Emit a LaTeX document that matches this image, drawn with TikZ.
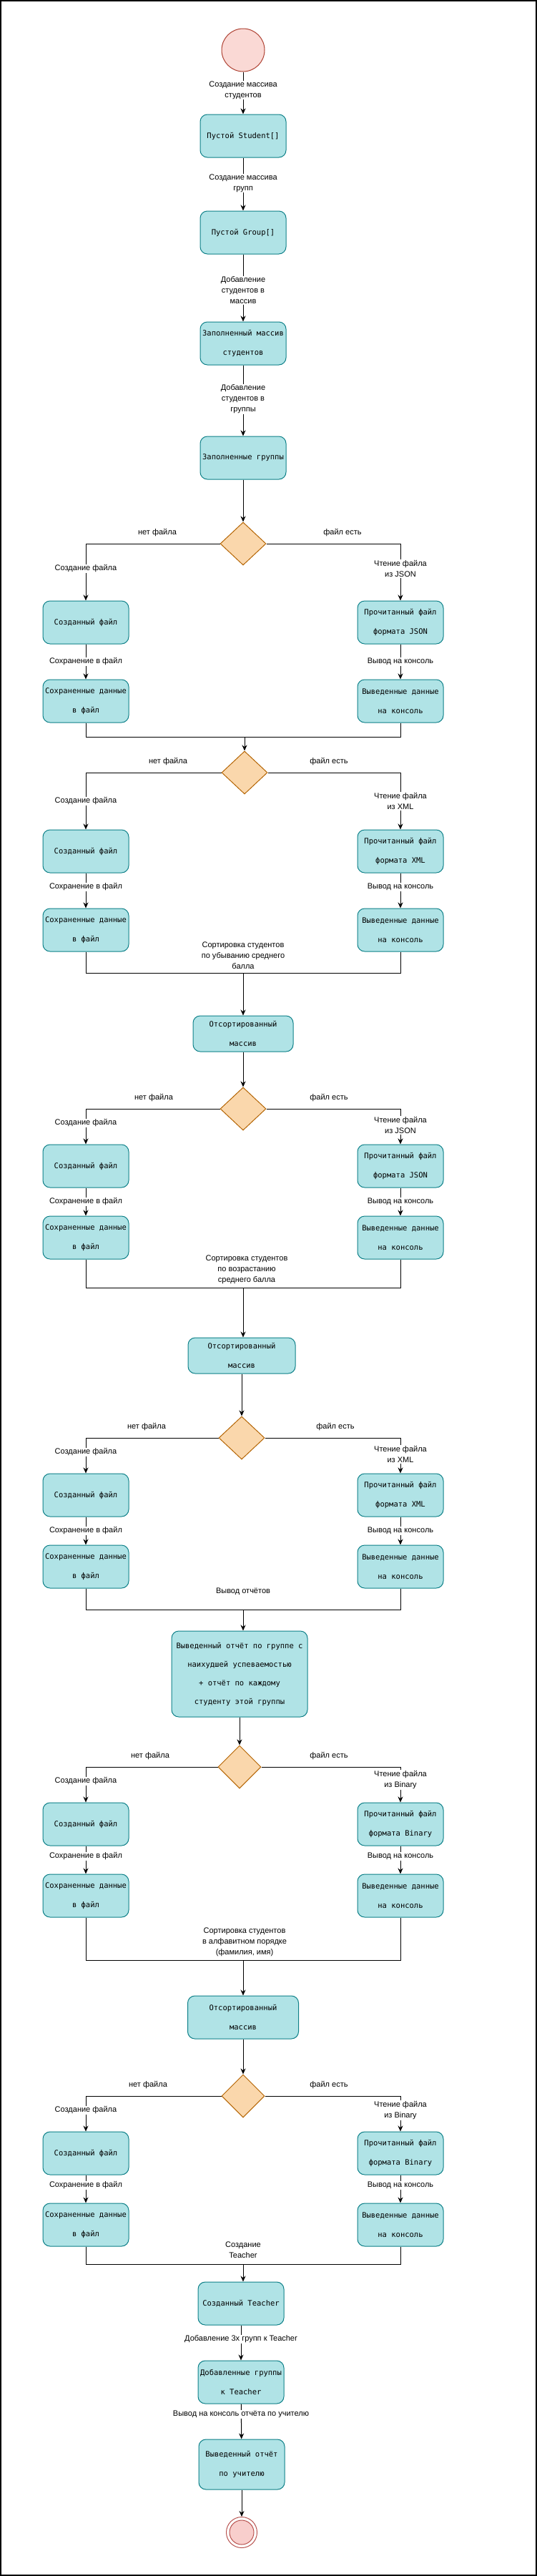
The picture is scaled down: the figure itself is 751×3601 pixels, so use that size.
\documentclass[tikz,border=0pt]{standalone}
\usepackage{fontspec}
\setmainfont{Liberation Sans}
\newfontfamily\boxmono{DejaVu Sans Mono}
\usetikzlibrary{shapes.geometric,arrows.meta}
\definecolor{boxfill}{HTML}{B0E3E6}
\definecolor{boxline}{HTML}{0E8088}
\definecolor{decfill}{HTML}{FAD7AC}
\definecolor{decline}{HTML}{B46504}
\definecolor{startfill}{HTML}{FAD9D5}
\definecolor{startline}{HTML}{AE4132}
\definecolor{endfill}{HTML}{F8CECC}
\definecolor{endline}{HTML}{B85450}
\tikzset{
 act/.style={draw=boxline, fill=boxfill, line width=1pt, rounded corners=10pt, minimum width=120pt, minimum height=60pt, inner sep=0pt, align=center, font=\boxmono\fontsize{10.5}{27}\selectfont},
 dec/.style={draw=decline, fill=decfill, line width=1pt, diamond, minimum width=64pt, minimum height=60pt, inner sep=0pt},
 lbl/.style={fill=white, inner sep=1pt, align=center, font=\fontsize{11}{15}\selectfont},
 flow/.style={line width=1pt, -{Stealth[length=8pt,width=7pt]}},
 wire/.style={line width=1pt},
}
\begin{document}
\begin{tikzpicture}[x=1pt,y=-1pt]
\useasboundingbox (0,0) rectangle (751,3601);
\draw[line width=1.5pt] (0.75,0.75) rectangle (750,3600);

% ---------- top part ----------
\node[circle, draw=startline, fill=startfill, line width=1pt, minimum size=60pt, inner sep=0pt] (start) at (340,70) {};
\node[act] (b1) at (340,190) {Пустой Student[]};
\node[act] (b2) at (340,325) {Пустой Group[]};
\node[act] (b3) at (340,480) {Заполненный массив\\студентов};
\node[act] (b4) at (340,640) {Заполненные группы};
\node[dec] (d1) at (340,760) {};

\draw[flow] (start) -- (b1);
\draw[flow] (b1) -- (b2);
\draw[flow] (b2) -- (b3);
\draw[flow] (b3) -- (b4);
\draw[flow] (b4) -- (d1);
\node[lbl] (e1) at (340,126) {Создание массива\\студентов};
\node[lbl] (e2) at (340,256) {Создание массива\\групп};
\node[lbl] (e3) at (340,406) {Добавление\\студентов в\\массив};
\node[lbl] (e4) at (340,558) {Добавление\\студентов в\\группы};

% ---------- block 1 (JSON) ----------
\node[act] (a1) at (120,870) {Созданный файл};
\node[act] (a2) at (120,980) {Сохраненные данные\\в файл};
\node[act] (a3) at (560,870) {Прочитанный файл\\формата JSON};
\node[act] (a4) at (560,980) {Выведенные данные\\на консоль};
\coordinate (m1) at (342,1030);
\node[dec] (d2) at (342,1080) {};
\draw[flow] (d1.west) -| (a1.north);
\draw[flow] (d1.east) -| (a3.north);
\draw[flow] (a1) -- (a2);
\draw[flow] (a3) -- (a4);
\draw[wire] (a2.south) |- (m1) -| (a4.south);
\draw[flow] (m1) -- (d2.north);
\node[lbl] (n1) at (220,745) {нет файла};
\node[lbl] (y1) at (479,745) {файл есть};
\node[lbl] (c1) at (120,795) {Создание файла};
\node[lbl] (r1) at (560,795) {Чтение файла\\из JSON};
\node[lbl] (s1l) at (120,925) {Сохранение в файл};
\node[lbl] (o1) at (560,925) {Вывод на консоль};

% ---------- block 2 (XML) ----------
\node[act] (f1) at (120,1190) {Созданный файл};
\node[act] (f2) at (120,1300) {Сохраненные данные\\в файл};
\node[act] (f3) at (560,1190) {Прочитанный файл\\формата XML};
\node[act] (f4) at (560,1300) {Выведенные данные\\на консоль};
\coordinate (m2) at (340,1360);
\node[act, minimum width=140pt, minimum height=50pt] (srt1) at (340,1445) {Отсортированный\\массив};
\draw[flow] (d2.west) -| (f1.north);
\draw[flow] (d2.east) -| (f3.north);
\draw[flow] (f1) -- (f2);
\draw[flow] (f3) -- (f4);
\draw[wire] (f2.south) |- (m2) -| (f4.south);
\draw[flow] (m2) -- (srt1.north);
\node[lbl] (n2) at (235,1065) {нет файла};
\node[lbl] (y2) at (460,1065) {файл есть};
\node[lbl] (c2) at (120,1120) {Создание файла};
\node[lbl] (r2) at (560,1120) {Чтение файла\\из XML};
\node[lbl] (s2l) at (120,1240) {Сохранение в файл};
\node[lbl] (o2) at (560,1240) {Вывод на консоль};
\node[lbl] (k1) at (340,1336) {Сортировка студентов\\по убыванию среднего\\балла};

% ---------- block 3 (JSON) ----------
\node[dec] (d3) at (340,1550) {};
\node[act] (g1) at (120,1630) {Созданный файл};
\node[act] (g2) at (120,1730) {Сохраненные данные\\в файл};
\node[act] (g3) at (560,1630) {Прочитанный файл\\формата JSON};
\node[act] (g4) at (560,1730) {Выведенные данные\\на консоль};
\coordinate (m3) at (340,1800);
\node[act, minimum width=150pt, minimum height=50pt] (srt2) at (338,1895) {Отсортированный\\массив};
\draw[flow] (srt1) -- (d3);
\draw[flow] (d3.west) -| (g1.north);
\draw[flow] (d3.east) -| (g3.north);
\draw[flow] (g1) -- (g2);
\draw[flow] (g3) -- (g4);
\draw[wire] (g2.south) |- (m3) -| (g4.south);
\draw[flow] (m3) -- (m3 |- srt2.north);
\node[lbl] (n3) at (215,1535) {нет файла};
\node[lbl] (y3) at (460,1535) {файл есть};
\node[lbl] (c3) at (120,1570) {Создание файла};
\node[lbl] (r3) at (560,1573) {Чтение файла\\из JSON};
\node[lbl] (s3l) at (120,1680) {Сохранение в файл};
\node[lbl] (o3) at (560,1680) {Вывод на консоль};
\node[lbl] (k2) at (345,1775) {Сортировка студентов\\по возрастанию\\среднего балла};

% ---------- block 4 (XML) ----------
\node[dec] (d4) at (338,2010) {};
\node[act] (h1) at (120,2090) {Созданный файл};
\node[act] (h2) at (120,2190) {Сохраненные данные\\в файл};
\node[act] (h3) at (560,2090) {Прочитанный файл\\формата XML};
\node[act] (h4) at (560,2190) {Выведенные данные\\на консоль};
\coordinate (m4) at (340,2250);
\node[act, minimum width=190pt, minimum height=120pt, font=\boxmono\fontsize{10.5}{26}\selectfont] (rep) at (335,2340) {Выведенный отчёт по группе с\\наихудшей успеваемостью\\+ отчёт по каждому\\студенту этой группы};
\draw[flow] (srt2) -- (d4);
\draw[flow] (d4.west) -| (h1.north);
\draw[flow] (d4.east) -| (h3.north);
\draw[flow] (h1) -- (h2);
\draw[flow] (h3) -- (h4);
\draw[wire] (h2.south) |- (m4) -| (h4.south);
\draw[flow] (m4) -- (m4 |- rep.north);
\node[lbl] (n4) at (205,1995) {нет файла};
\node[lbl] (y4) at (469,1995) {файл есть};
\node[lbl] (c4) at (120,2030) {Создание файла};
\node[lbl] (r4) at (560,2033) {Чтение файла\\из XML};
\node[lbl] (s4l) at (120,2140) {Сохранение в файл};
\node[lbl] (o4) at (560,2140) {Вывод на консоль};
\node[lbl] (k3) at (340,2225) {Вывод отчётов};

% ---------- block 5 (Binary) ----------
\node[dec, minimum width=60pt] (d5) at (335,2470) {};
\node[act] (p1) at (120,2550) {Созданный файл};
\node[act] (p2) at (120,2650) {Сохраненные данные\\в файл};
\node[act] (p3) at (560,2550) {Прочитанный файл\\формата Binary};
\node[act] (p4) at (560,2650) {Выведенные данные\\на консоль};
\coordinate (m5) at (340,2740);
\node[act, minimum width=155pt, minimum height=60pt] (srt3) at (340,2820) {Отсортированный\\массив};
\draw[flow] (rep) -- (d5);
\draw[flow] (d5.west) -| (p1.north);
\draw[flow] (d5.east) -| (p3.north);
\draw[flow] (p1) -- (p2);
\draw[flow] (p3) -- (p4);
\draw[wire] (p2.south) |- (m5) -| (p4.south);
\draw[flow] (m5) -- (srt3.north);
\node[lbl] (n5) at (210,2455) {нет файла};
\node[lbl] (y5) at (460,2455) {файл есть};
\node[lbl] (c5) at (120,2490) {Создание файла};
\node[lbl] (r5) at (560,2488) {Чтение файла\\из Binary};
\node[lbl] (s5l) at (120,2595) {Сохранение в файл};
\node[lbl] (o5) at (560,2595) {Вывод на консоль};
\node[lbl] (k4) at (342,2715) {Сортировка студентов\\в алфавитном порядке\\(фамилия, имя)};

% ---------- block 6 (Binary) ----------
\node[dec, minimum width=60pt] (d6) at (340,2930) {};
\node[act] (q1) at (120,3010) {Созданный файл};
\node[act] (q2) at (120,3110) {Сохраненные данные\\в файл};
\node[act] (q3) at (560,3010) {Прочитанный файл\\формата Binary};
\node[act] (q4) at (560,3110) {Выведенные данные\\на консоль};
\coordinate (m6) at (340,3165);
\node[act] (t1) at (337,3220) {Созданный Teacher};
\node[act] (t2) at (337,3330) {Добавленные группы\\к Teacher};
\node[act, minimum height=70pt] (t3) at (338,3445) {Выведенный отчёт\\по учителю};
\node[circle, draw=endline, fill=white, line width=1pt, minimum size=43pt, inner sep=0pt] (fin) at (338,3540) {};
\node[circle, draw=endline, fill=endfill, line width=1pt, minimum size=34pt, inner sep=0pt] (fin2) at (fin) {};
\draw[flow] (srt3) -- (d6);
\draw[flow] (d6.west) -| (q1.north);
\draw[flow] (d6.east) -| (q3.north);
\draw[flow] (q1) -- (q2);
\draw[flow] (q3) -- (q4);
\draw[wire] (q2.south) |- (m6) -| (q4.south);
\draw[flow] (m6) -- (m6 |- t1.north);
\draw[flow] (t1) -- (t2);
\draw[flow] (t2) -- (t3);
\draw[flow] (t3) -- (fin);
\node[lbl] (n6) at (207,2915) {нет файла};
\node[lbl] (y6) at (460,2915) {файл есть};
\node[lbl] (c6) at (120,2950) {Создание файла};
\node[lbl] (r6) at (560,2950) {Чтение файла\\из Binary};
\node[lbl] (s6l) at (120,3055) {Сохранение в файл};
\node[lbl] (o6) at (560,3055) {Вывод на консоль};
\node[lbl] (k5) at (340,3145) {Создание\\Teacher};
\node[lbl] (k6) at (337,3270) {Добавление 3х групп к Teacher};
\node[lbl] (k7) at (337,3375) {Вывод на консоль отчёта по учителю};
\end{tikzpicture}
\end{document}
